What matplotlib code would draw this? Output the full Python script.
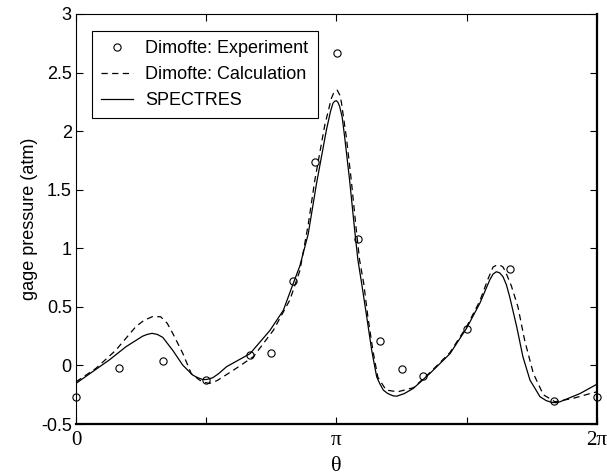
import numpy as np
import matplotlib
matplotlib.use("Agg")
from matplotlib import pyplot as plt

plt.rcParams['font.family'] = ['Liberation Sans', 'DejaVu Sans']

# experiment points (theta in rad, gage pressure atm)
exp_theta = [0.0, 0.524, 1.047, 1.571, 2.094, 2.356, 2.618, 2.880, 3.142,
             3.403, 3.665, 3.927, 4.189, 4.712, 5.236, 5.760, 6.283]
exp_p = [-0.27, -0.025, 0.035, -0.12, 0.086, 0.106, 0.72, 1.74, 2.665,
         1.077, 0.21, -0.033, -0.09, 0.31, 0.82, -0.30, -0.27]

# Dimofte calculation (dashed)
calc_theta = [0.0, 0.24, 0.48, 0.72, 0.82, 0.92, 1.02, 1.10, 1.17, 1.29,
              1.39, 1.49, 1.55, 1.61, 1.70, 1.90, 2.14, 2.38, 2.58, 2.70,
              2.80, 2.88, 3.00, 3.08, 3.11, 3.15, 3.18, 3.20, 3.26, 3.32,
              3.38, 3.42, 3.47, 3.52, 3.58, 3.64, 3.74, 3.88, 4.07, 4.27,
              4.51, 4.71, 4.87, 4.97, 5.03, 5.07, 5.11, 5.15, 5.18, 5.25,
              5.33, 5.41, 5.515, 5.636, 5.777, 6.0, 6.2, 6.283]
calc_p = [-0.14, -0.025, 0.13, 0.33, 0.385, 0.416, 0.416, 0.36, 0.27, 0.10,
          -0.07, -0.125, -0.145, -0.153, -0.13, -0.04, 0.075, 0.30, 0.56, 0.81,
          1.2, 1.58, 2.05, 2.28, 2.33, 2.35, 2.31, 2.25, 1.95, 1.58,
          1.16, 0.90, 0.70, 0.416, 0.13, -0.10, -0.21, -0.225, -0.19, -0.06,
          0.11, 0.33, 0.55, 0.74, 0.84, 0.855, 0.857, 0.84, 0.80, 0.68,
          0.50, 0.217, -0.067, -0.25, -0.31, -0.28, -0.24, -0.225]

# SPECTRES (solid)
spec_theta = [0.0, 0.40, 0.603, 0.804, 0.86, 0.917, 0.98, 1.046, 1.166,
              1.287, 1.407, 1.47, 1.528, 1.576, 1.649, 1.72, 1.817, 2.098,
              2.34, 2.50, 2.62, 2.70, 2.80, 2.90, 3.02, 3.07, 3.10, 3.12,
              3.14, 3.16, 3.18, 3.21, 3.24, 3.30, 3.36, 3.40, 3.445, 3.506,
              3.566, 3.626, 3.66, 3.706, 3.76, 3.827, 3.87, 3.907, 3.96,
              4.068, 4.27, 4.51, 4.71, 4.87, 4.99, 5.03, 5.07, 5.11, 5.15,
              5.19, 5.23, 5.315, 5.39, 5.475, 5.596, 5.67, 5.737, 5.79,
              5.837, 6.078, 6.283]
spec_p = [-0.153, 0.046, 0.16, 0.25, 0.265, 0.274, 0.265, 0.24, 0.13,
          0.003, -0.082, -0.105, -0.12, -0.12, -0.105, -0.07, -0.01, 0.10,
          0.30, 0.47, 0.70, 0.85, 1.12, 1.55, 2.01, 2.17, 2.24, 2.255,
          2.26, 2.245, 2.21, 2.12, 1.95, 1.58, 1.16, 0.90, 0.70, 0.416,
          0.13, -0.096, -0.15, -0.21, -0.24, -0.26, -0.262, -0.253, -0.24,
          -0.196, -0.067, 0.10, 0.317, 0.53, 0.73, 0.78, 0.80, 0.79, 0.757,
          0.69, 0.587, 0.33, 0.074, -0.125, -0.267, -0.30, -0.315, -0.318,
          -0.31, -0.24, -0.16]

fig = plt.figure(figsize=(6.07, 4.76), dpi=100)
ax = fig.add_axes([0.1252, 0.1092, 0.8583, 0.8614])

ax.plot(exp_theta, exp_p, 'o', mfc='none', mec='k', ms=5.2, mew=0.8,
        label='Dimofte: Experiment', clip_on=False, zorder=3)
ax.plot(calc_theta, calc_p, '--', color='k', lw=0.9, dashes=(5, 3.5),
        label='Dimofte: Calculation')
ax.plot(spec_theta, spec_p, '-', color='k', lw=0.9, label='SPECTRES')

ax.set_xlim(0, 2 * np.pi)
ax.set_ylim(-0.5, 3)
ax.set_xticks([0, np.pi / 2, np.pi, 3 * np.pi / 2, 2 * np.pi])
ax.set_xticklabels(['0', '', '\u03c0', '', '2\u03c0'],
                   family='Liberation Serif', fontsize=15)
ax.set_yticks([-0.5, 0, 0.5, 1, 1.5, 2, 2.5, 3])
ax.set_yticklabels(['-0.5', '0', '0.5', '1', '1.5', '2', '2.5', '3'], fontsize=13)
ax.tick_params(direction='in', top=True, right=True, length=5, width=0.8, pad=3)
ax.tick_params(axis='x', pad=5)

for s in ax.spines.values():
    s.set_linewidth(0.8)
ax.spines['bottom'].set_linewidth(1.6)
ax.spines['right'].set_linewidth(1.6)

ax.set_xlabel('\u03b8', family='Liberation Serif', fontsize=16, labelpad=5)
ax.set_ylabel('gage pressure (atm)', fontsize=13, labelpad=2)

leg = ax.legend(loc='upper left', bbox_to_anchor=(0.031, 0.958), borderaxespad=0,
                fontsize=13, fancybox=False, edgecolor='k', framealpha=1,
                handlelength=1.75, handletextpad=0.7, labelspacing=0.5,
                borderpad=0.5)
leg.get_frame().set_linewidth(0.8)

fig.savefig('out.png', dpi=100)
